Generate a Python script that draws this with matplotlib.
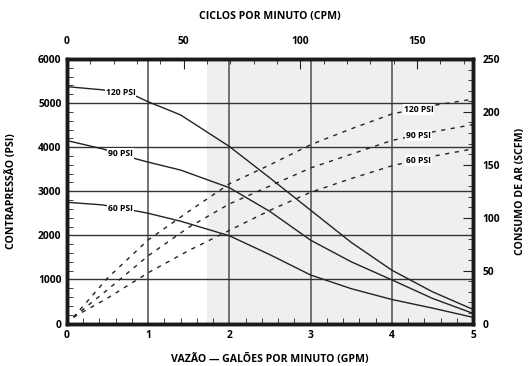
import matplotlib
matplotlib.use('Agg')
import matplotlib.pyplot as plt
from matplotlib.ticker import MultipleLocator

plt.rcParams['font.family'] = ['Open Sans', 'DejaVu Sans']
plt.rcParams['font.weight'] = 'bold'

# Back pressure (PSI) vs flow (GPM), solid curves
gpm_p = [0, 0.44, 0.86, 1.0, 1.4, 2.0, 2.5, 3.0, 3.5, 4.0, 4.5, 5.0]
psi_120 = [5373, 5300, 5150, 5030, 4730, 4015, 3300, 2570, 1840, 1210, 720, 320]
psi_90 = [4150, 3960, 3730, 3660, 3480, 3080, 2540, 1890, 1400, 990, 570, 230]
psi_60 = [2750, 2690, 2550, 2500, 2320, 1990, 1560, 1100, 790, 545, 350, 140]

# Air consumption (SCFM) vs flow (GPM), dashed curves
gpm_a = [0.08, 0.5, 1.0, 1.5, 2.0, 2.5, 3.0, 3.5, 4.0, 4.5, 5.0]
scfm_120 = [6, 43, 79, 106, 132, 150, 169, 184, 198, 206, 212]
scfm_90 = [6, 32, 64, 91, 113, 130, 147, 160, 173, 181, 188]
scfm_60 = [6, 24, 48, 69, 88, 107, 124, 137, 149, 158, 165]

labels = ['120 PSI', '90 PSI', '60 PSI']

fig = plt.figure(figsize=(5.29, 3.66), dpi=100)
ax = fig.add_axes([67/529, 1 - 323.5/366, 406/529, 264.5/366])

ax.axvspan(1.72, 5, color='#efefef', zorder=0, lw=0)
for x in [1, 2, 3, 4]:
    ax.axvline(x, color='#666666', lw=1.3, zorder=1)
for y in [1000, 2000, 3000, 4000, 5000]:
    ax.axhline(y, color='#333333', lw=1.0, zorder=1)

ax.set_xlim(0, 5)
ax.set_ylim(0, 6000)

box = dict(facecolor='white', edgecolor='none', pad=0.6)
for vals, lab, ly in zip([psi_120, psi_90, psi_60], labels, [5235, 3850, 2620]):
    ax.plot(gpm_p, vals, color='#222222', lw=1.0, zorder=3)
    ax.text(0.66, ly, lab, fontsize=6.2, ha='center', va='center',
            bbox=box, zorder=4)

ax.xaxis.set_major_locator(MultipleLocator(1))
ax.xaxis.set_minor_locator(MultipleLocator(0.2))
ax.yaxis.set_major_locator(MultipleLocator(1000))
ax.yaxis.set_minor_locator(MultipleLocator(200))
ax.tick_params(axis='both', which='both', direction='in', labelsize=7.4,
               color='#222222')
ax.tick_params(axis='x', which='major', length=0, pad=5)
ax.tick_params(axis='x', which='minor', length=4)
ax.tick_params(axis='y', which='major', length=0, pad=4)
ax.tick_params(axis='y', which='minor', length=4)

# right axis: air consumption
ax2 = ax.twinx()
ax2.set_ylim(0, 250)
for vals, lab, ly in zip([scfm_120, scfm_90, scfm_60], labels, [202, 178, 154]):
    ax2.plot(gpm_a, vals, color='#222222', lw=1.0, linestyle=(0, (3, 4)),
             zorder=3)
    ax2.text(4.33, ly, lab, fontsize=6.2, ha='center', va='center',
             bbox=box, zorder=4)
ax2.yaxis.set_major_locator(MultipleLocator(50))
ax2.yaxis.set_minor_locator(MultipleLocator(10))
ax2.tick_params(axis='y', which='major', direction='in', length=7, pad=7,
                labelsize=7.4, color='#222222')
ax2.tick_params(axis='y', which='minor', direction='in', length=3.5,
                color='#222222')

# top axis: cycles per minute
ax3 = ax.twiny()
ax3.set_xlim(0, 174)
ax3.xaxis.set_major_locator(MultipleLocator(50))
ax3.xaxis.set_minor_locator(MultipleLocator(10))
ax3.tick_params(axis='x', which='major', direction='in', length=7, pad=9,
                labelsize=7.4, color='#222222')
ax3.tick_params(axis='x', which='minor', direction='in', length=3.5,
                color='#222222')

for a in [ax, ax2, ax3]:
    for s in a.spines.values():
        s.set_linewidth(2.4)
        s.set_color('#1a1a1a')

fig.text(270/529, 1 - 17/366, 'CICLOS POR MINUTO (CPM)', fontsize=7.6,
         ha='center', va='center')
fig.text(270/529, 1 - 359/366, 'VAZÃO — GALÕES POR MINUTO (GPM)', fontsize=7.6,
         ha='center', va='center')
fig.text(12/529, 1 - 191/366, 'CONTRAPRESSÃO (PSI)', fontsize=7.6,
         ha='center', va='center', rotation=90)
fig.text(521/529, 1 - 191/366, 'CONSUMO DE AR (SCFM)', fontsize=7.6,
         ha='center', va='center', rotation=90)

fig.savefig('out.png', dpi=100)
